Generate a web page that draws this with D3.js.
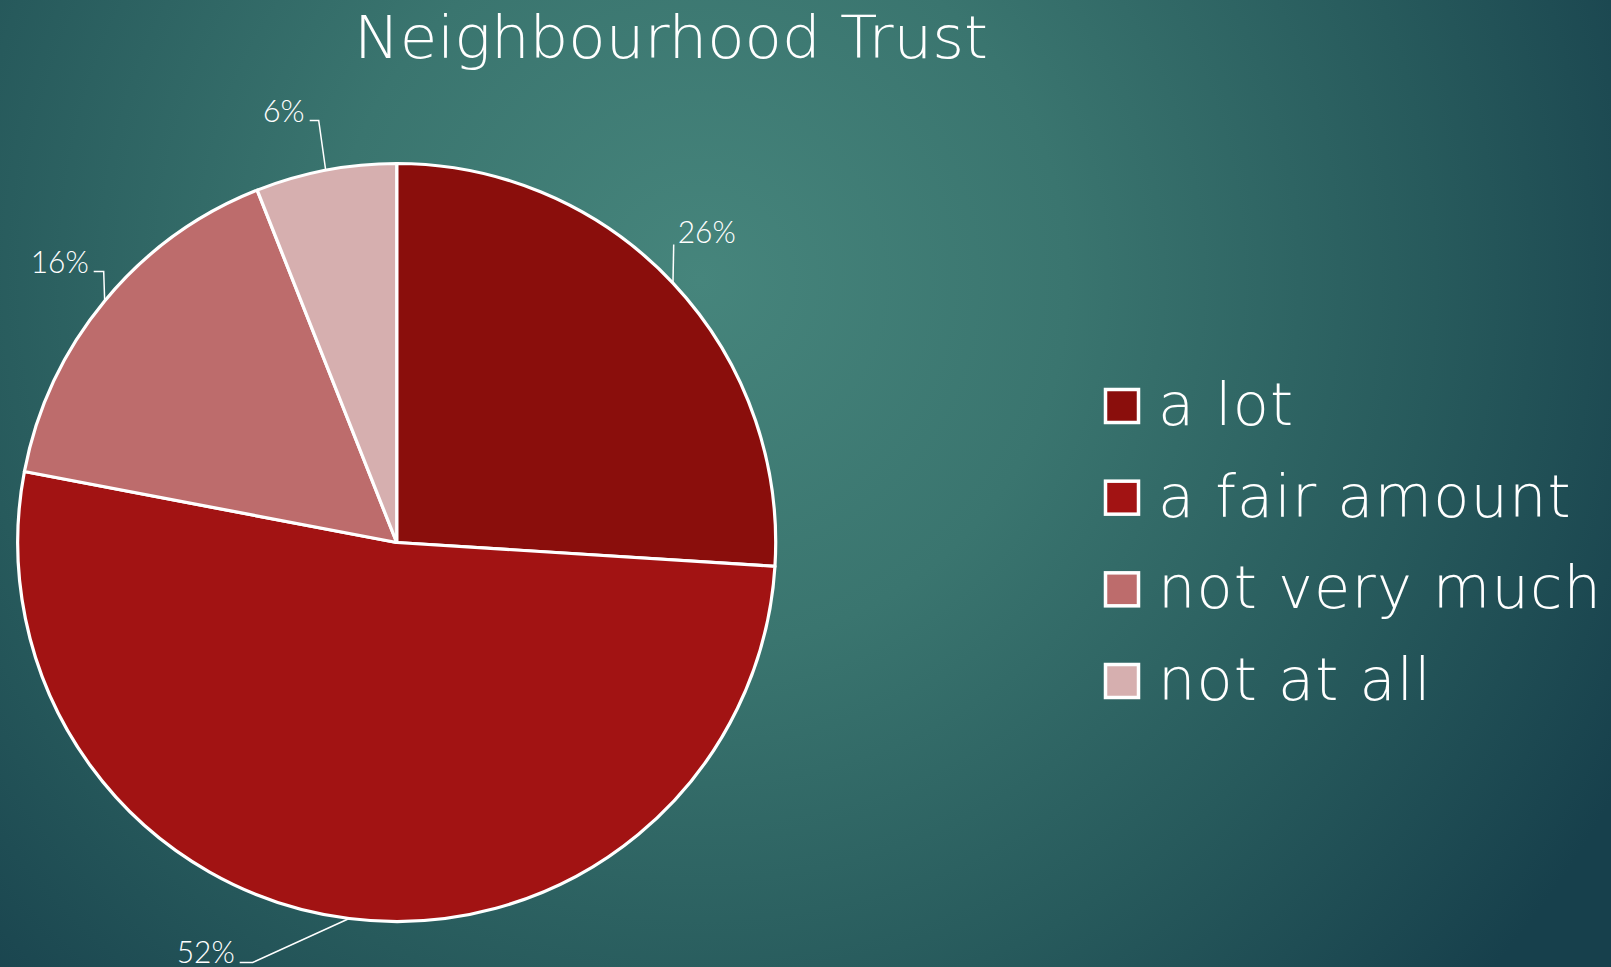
<!DOCTYPE html>
<html>
<head>
<meta charset="utf-8">
<script src="https://cdn.jsdelivr.net/npm/d3@7"></script>
<style>
  html, body { margin: 0; padding: 0; overflow: hidden; background: #1f4f55; }
  svg { display: block; }
</style>
</head>
<body>
<svg id="chart" width="1611" height="967"></svg>
<script>
// Survey answers and their shares (percent)
const categories = ["a lot", "a fair amount", "not very much", "not at all"];
const values = [26, 52, 16, 6];
const sliceColors = ["#8a0e0c", "#a21313", "#bd6c6c", "#d6afaf"];
const chartTitle = "Neighbourhood Trust";

const W = 1611, H = 967;
const svg = d3.select("#chart");
const FONT = "Lato, 'Open Sans', sans-serif";
const WIDE = "'DejaVu Sans', Lato, sans-serif";

// Background: soft teal radial glow
const defs = svg.append("defs");
const bg = defs.append("radialGradient")
  .attr("id", "bg").attr("gradientUnits", "userSpaceOnUse")
  .attr("cx", 700).attr("cy", 280).attr("r", 1050);
bg.append("stop").attr("offset", "0%").attr("stop-color", "#46857c");
bg.append("stop").attr("offset", "35%").attr("stop-color", "#3a756f");
bg.append("stop").attr("offset", "70%").attr("stop-color", "#275a5c");
bg.append("stop").attr("offset", "100%").attr("stop-color", "#17404c");
svg.append("rect").attr("width", W).attr("height", H).attr("fill", "url(#bg)");

// Title
svg.append("text")
  .attr("x", 671).attr("y", 58)
  .attr("text-anchor", "middle")
  .attr("font-family", WIDE).attr("font-weight", 200)
  .attr("font-size", 58).attr("fill", "#ffffff")
  .attr("textLength", 634).attr("lengthAdjust", "spacingAndGlyphs")
  .text(chartTitle);

// Pie
const cx = 396.7, cy = 542.5, R = 379;
const data = categories.map((c, i) => ({ name: c, value: values[i], color: sliceColors[i] }));
const pie = d3.pie().value(d => d.value).sort(null);
const arcs = pie(data);
const arc = d3.arc().innerRadius(0).outerRadius(R);
const edge = d3.arc().innerRadius(R).outerRadius(R);

const g = svg.append("g").attr("transform", `translate(${cx},${cy})`);
g.selectAll("path.slice")
  .data(arcs)
  .join("path")
  .attr("class", "slice")
  .attr("d", arc)
  .attr("fill", d => d.data.color)
  .attr("stroke", "#ffffff")
  .attr("stroke-width", 3.2)
  .attr("stroke-linejoin", "round");

// Data labels with leader lines (elbow points relative to the pie centre)
const labelLayout = [
  { elbow: null,          text: [281, -300], anchor: "start", end: [277, -298] },
  { elbow: [-144, 420],   text: [-162, 420], anchor: "end" },
  { elbow: [-293, -271],  text: [-308, -270], anchor: "end" },
  { elbow: [-78, -422],   text: [-92, -421], anchor: "end" }
];
const pctFmt = d => Math.round(d.value) + "%";

arcs.forEach((a, i) => {
  const L = labelLayout[i];
  const p = edge.centroid(a);
  let pts;
  if (L.elbow) {
    pts = [p, L.elbow, [L.text[0] + 5, L.elbow[1]]];
  } else {
    pts = [p, L.end];
  }
  g.append("path")
    .attr("d", d3.line()(pts))
    .attr("fill", "none")
    .attr("stroke", "#ffffff")
    .attr("stroke-width", 1.5);
  g.append("text")
    .attr("x", L.text[0]).attr("y", L.text[1])
    .attr("text-anchor", L.anchor)
    .attr("font-family", FONT).attr("font-weight", 300)
    .attr("font-size", 31).attr("fill", "#ffffff")
    .attr("textLength", String(pctFmt(a.data)).length === 2 ? 42 : 58)
    .attr("lengthAdjust", "spacingAndGlyphs")
    .text(pctFmt(a.data));
});

// Legend
const legendY = d3.scalePoint().domain(categories).range([406, 681]);
const lg = svg.append("g");
const items = lg.selectAll("g.item")
  .data(data)
  .join("g")
  .attr("class", "item")
  .attr("transform", d => `translate(1104,${legendY(d.name)})`);
items.append("rect")
  .attr("x", 1.5).attr("y", -16.5)
  .attr("width", 33).attr("height", 33)
  .attr("fill", d => d.color)
  .attr("stroke", "#ffffff").attr("stroke-width", 3.5);
const labels = items.append("text")
  .attr("x", 54).attr("y", 19)
  .attr("font-family", WIDE).attr("font-weight", 200)
  .attr("font-size", 59).attr("fill", "#ffffff")
  .text(d => d.name);

// Adjust spacing so the longest entry spans its full column
let longest = null, longestLen = 0;
labels.each(function () {
  const l = this.getComputedTextLength();
  if (l > longestLen) { longestLen = l; longest = this; }
});
const n = longest.textContent.length;
const spacing = (443 - longestLen) / (n - 1);
labels.attr("letter-spacing", spacing);
</script>
</body>
</html>
